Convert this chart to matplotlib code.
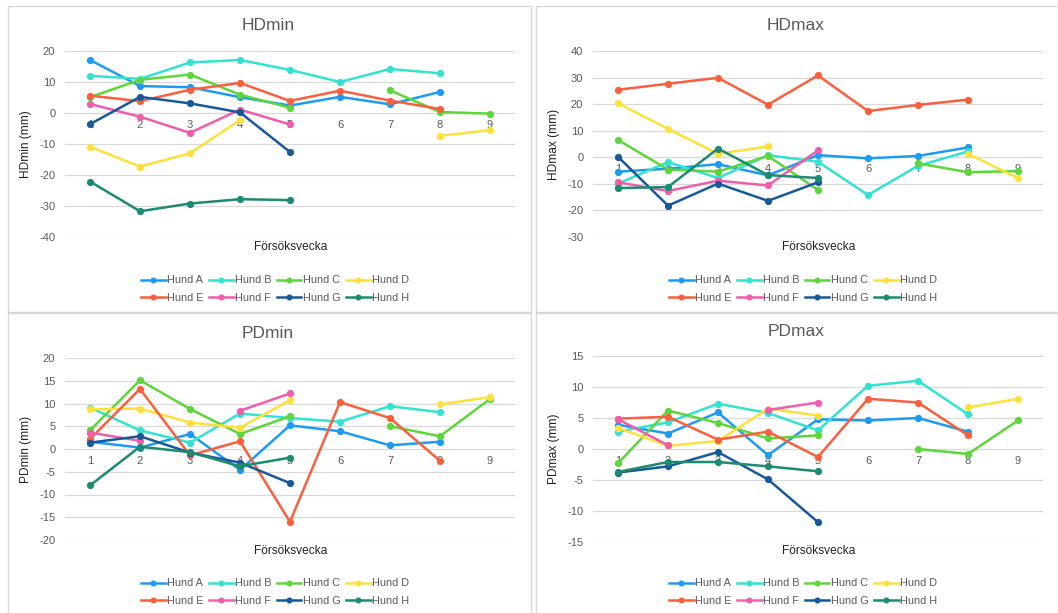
import numpy as np
import matplotlib.pyplot as plt
from matplotlib.patches import Rectangle

plt.rcParams['font.family'] = ['Liberation Sans', 'DejaVu Sans']
plt.rcParams['axes.unicode_minus'] = False

nan = np.nan
weeks = [1, 2, 3, 4, 5, 6, 7, 8, 9]
dogs = ['Hund A', 'Hund B', 'Hund C', 'Hund D', 'Hund E', 'Hund F', 'Hund G', 'Hund H']
colors = ['#1E9BF0', '#33E3CF', '#5ED53A', '#FDE03C', '#FB5F3D', '#EE5EAB', '#19599A', '#1E8A70']

# en rad per hund (A-H), veckor 1-9, nan = saknas
hdmin = [
    [17.1, 8.7, 8.3, 5.1, 2.4, 5.2, 2.8, 6.8, nan],
    [12.0, 11.0, 16.3, 17.1, 13.9, 10.0, 14.2, 12.8, nan],
    [5.1, 10.7, 12.4, 5.9, 1.7, nan, 7.3, 0.3, -0.2],
    [-10.9, -17.3, -13.0, -2.3, nan, nan, nan, -7.4, -5.5],
    [5.6, 3.8, 7.5, 9.7, 3.9, 7.2, 4.0, 1.3, nan],
    [2.9, -1.2, -6.4, 1.1, -3.7, nan, nan, nan, nan],
    [-3.6, 5.2, 3.1, 0.2, -12.6, nan, nan, nan, nan],
    [-22.1, -31.7, -29.2, -27.8, -28.1, nan, nan, nan, nan],
]
hdmax = [
    [-5.4, -4.3, -2.6, -6.8, 0.8, -0.4, 0.5, 3.7, nan],
    [-9.9, -1.8, -7.8, 0.8, -1.7, -14.2, -3.2, 2.2, nan],
    [6.5, -4.6, -5.4, 0.5, -12.3, nan, -2.3, -5.6, -5.2],
    [20.3, 10.7, 1.3, 4.1, nan, nan, nan, 1.3, -7.8],
    [25.4, 27.7, 29.9, 19.8, 30.8, 17.4, 19.7, 21.7, nan],
    [-9.4, -12.7, -8.8, -10.6, 2.6, nan, nan, nan, nan],
    [0.2, -18.2, -9.9, -16.4, -9.4, nan, nan, nan, nan],
    [-11.6, -11.2, 3.3, -6.7, -7.8, nan, nan, nan, nan],
]
pdmin = [
    [1.6, 0.3, 3.3, -4.6, 5.2, 3.9, 0.8, 1.6, nan],
    [9.1, 4.1, 1.4, 7.8, 6.8, 6.0, 9.4, 8.1, nan],
    [4.1, 15.1, 8.8, 3.3, 7.2, nan, 5.0, 2.8, 11.0],
    [8.7, 8.9, 5.8, 4.7, 10.7, nan, nan, 9.8, 11.4],
    [2.2, 13.2, -1.4, 1.7, -16.0, 10.3, 6.8, -2.6, nan],
    [3.6, 1.8, nan, 8.4, 12.2, nan, nan, nan, nan],
    [1.4, 2.8, -0.8, -3.0, -7.5, nan, nan, nan, nan],
    [-8.0, 0.5, -0.7, -3.8, -1.9, nan, nan, nan, nan],
]
pdmax = [
    [3.9, 2.5, 5.9, -1.0, 4.8, 4.6, 5.0, 2.8, nan],
    [2.8, 4.3, 7.3, 5.8, 3.0, 10.2, 11.0, 5.6, nan],
    [-2.3, 6.2, 4.2, 1.7, 2.2, nan, 0.0, -0.8, 4.6],
    [3.4, 0.5, 1.3, 6.5, 5.4, nan, nan, 6.7, 8.1],
    [4.9, 5.2, 1.5, 2.8, -1.3, 8.1, 7.5, 2.2, nan],
    [4.8, 0.6, nan, 6.3, 7.5, nan, nan, nan, nan],
    [-3.8, -2.8, -0.5, -4.9, -11.8, nan, nan, nan, nan],
    [-3.7, -2.1, -2.1, -2.8, -3.6, nan, nan, nan, nan],
]

W, H = 1058, 613
fig = plt.figure(figsize=(W / 100, H / 100), dpi=100)

def fx(px):
    return px / W

def fy(py):
    return 1 - py / H

# ramar runt varje diagram
for x0, y0, x1, y1 in [(8, 6, 531, 312), (536, 6, 1062, 312), (8, 313, 531, 620), (536, 313, 1062, 620)]:
    fig.patches.append(Rectangle((fx(x0), fy(y1)), fx(x1 - x0), (y1 - y0) / H,
                                 transform=fig.transFigure, fill=False,
                                 edgecolor='#D9D9D9', linewidth=1.0))

def panel(data, title, ylim, ystep, ox, top, bottom, title_y, label_y, legend_y):
    left, right = ox + 65, ox + 515
    ax = fig.add_axes([fx(left), fy(bottom), fx(right - left), (bottom - top) / H])
    lines = []
    for vals, name, c in zip(data, dogs, colors):
        ln, = ax.plot(weeks, vals, color=c, linewidth=1.8, marker='o', markersize=4.2, label=name)
        lines.append(ln)
    ax.set_xlim(0.5, 9.5)
    ax.set_ylim(*ylim)
    ax.set_yticks(np.arange(ylim[0], ylim[1] + 0.1, ystep))
    ax.set_xticks(weeks)
    ax.grid(axis='y', color='#D9D9D9', linewidth=0.9)
    ax.set_axisbelow(True)
    for s in ax.spines.values():
        s.set_visible(False)
    ax.spines['bottom'].set_position(('data', 0))
    ax.tick_params(axis='both', length=0, labelsize=8, labelcolor='#595959')
    ax.tick_params(axis='x', pad=5)
    ax.tick_params(axis='y', pad=7)
    ax.set_ylabel(title + ' (mm)', fontsize=8.6, color='#222222')
    ax.yaxis.set_label_coords(-33 / 450, 0.5)
    fig.text(fx(ox + 291), fy(label_y), 'Försöksvecka', fontsize=8.6, color='#222222',
             ha='center', va='center',
             bbox=dict(facecolor='white', edgecolor='none', pad=1))
    fig.text(fx(ox + 268), fy(title_y), title, fontsize=12.5, color='#595959',
             ha='center', va='center')
    # legenden fylls kolumnvis, så ordna om för A-D överst och E-H under
    order = [0, 4, 1, 5, 2, 6, 3, 7]
    ax.legend([lines[i] for i in order], [dogs[i] for i in order],
              loc='center', bbox_to_anchor=(fx(ox + 275), fy(legend_y)),
              bbox_transform=fig.transFigure, ncol=4, frameon=False,
              fontsize=7.8, labelcolor='#595959', handlelength=2.3,
              handletextpad=0.15, columnspacing=0.45, labelspacing=0.65,
              markerscale=0.8)
    return ax

panel(hdmin, 'HDmin', (-40, 20), 10, 0, 51, 237, 25, 247, 289)
panel(hdmax, 'HDmax', (-30, 40), 10, 528, 51, 237, 25, 247, 289)
panel(pdmin, 'PDmin', (-20, 20), 5, 0, 358, 540, 333, 551, 592)
panel(pdmax, 'PDmax', (-15, 15), 5, 528, 356, 542, 331, 551, 592)

fig.savefig('out.png', dpi=100)
